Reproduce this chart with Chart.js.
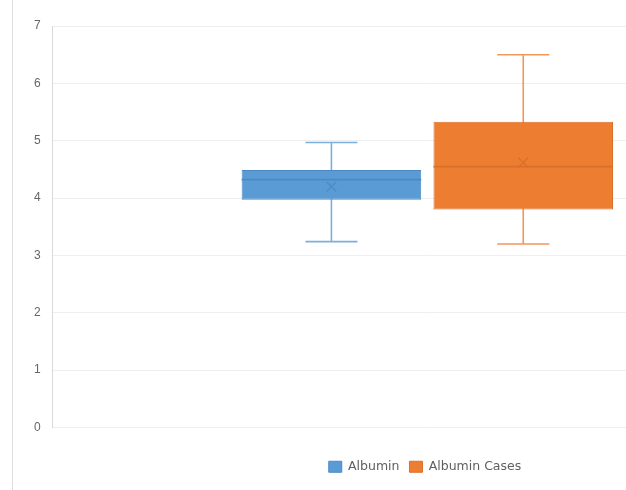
<!DOCTYPE html>
<html>
<head>
<meta charset="utf-8">
<script src="https://cdn.jsdelivr.net/npm/chart.js@4/dist/chart.umd.min.js"></script>
<style>
  html, body { margin: 0; padding: 0; width: 626px; height: 490px; overflow: hidden; background: #fff; }
  #frame { position: absolute; left: 12px; top: 0; width: 824px; height: 490px; border-left: 1px solid #dedede; }
  #chart { display: block; }
</style>
</head>
<body>
<div id="frame"><canvas id="chart" width="824" height="490"></canvas></div>
<script>
// Box-and-whisker summary per series
const categories = [''];
const seriesNames = ['Albumin', 'Albumin Cases'];
const minValues = [3.24, 3.20];
const q1Values = [3.97, 3.80];
const medianValues = [4.32, 4.55];
const q3Values = [4.49, 5.33];
const maxValues = [4.97, 6.50];
const meanValues = [4.20, 4.62];
const yTicks = [0, 1, 2, 3, 4, 5, 6, 7];

const fillColors = ['#5b9bd5', '#ed7d31'];
const lineColors = ['#4a89c6', '#d9702a'];

// Whiskers, median line and mean marker drawn around each floating bar
const boxWhiskerPlugin = {
  id: 'boxWhisker',
  beforeDatasetsDraw(chart) {
    const ctx = chart.ctx;
    const y = chart.scales.y;
    chart.data.datasets.forEach((ds, i) => {
      const bar = chart.getDatasetMeta(i).data[0];
      if (!bar) return;
      const cap = bar.width * 0.29;
      const yMin = y.getPixelForValue(minValues[i]);
      const yMax = y.getPixelForValue(maxValues[i]);
      ctx.save();
      ctx.strokeStyle = fillColors[i];
      ctx.globalAlpha = 0.8;
      ctx.lineWidth = 1.6;
      ctx.beginPath();
      ctx.moveTo(bar.x, yMax); ctx.lineTo(bar.x, yMin);
      ctx.moveTo(bar.x - cap / 2, yMax); ctx.lineTo(bar.x + cap / 2, yMax);
      ctx.moveTo(bar.x - cap / 2, yMin); ctx.lineTo(bar.x + cap / 2, yMin);
      ctx.stroke();
      ctx.restore();
    });
  },
  afterDatasetsDraw(chart) {
    const ctx = chart.ctx;
    const y = chart.scales.y;
    chart.data.datasets.forEach((ds, i) => {
      const bar = chart.getDatasetMeta(i).data[0];
      if (!bar) return;
      const half = bar.width / 2;
      const yMed = y.getPixelForValue(medianValues[i]);
      const yMean = y.getPixelForValue(meanValues[i]);
      ctx.save();
      ctx.strokeStyle = lineColors[i];
      ctx.lineWidth = 1.8;
      ctx.beginPath();
      ctx.moveTo(bar.x - half, yMed); ctx.lineTo(bar.x + half, yMed);
      ctx.stroke();
      ctx.lineWidth = 1.2;
      const m = 5;
      ctx.beginPath();
      ctx.moveTo(bar.x - m, yMean - m); ctx.lineTo(bar.x + m, yMean + m);
      ctx.moveTo(bar.x - m, yMean + m); ctx.lineTo(bar.x + m, yMean - m);
      ctx.stroke();
      ctx.restore();
    });
  }
};

const datasets = seriesNames.map((name, i) => ({
  label: name,
  data: [[q1Values[i], q3Values[i]]],
  backgroundColor: fillColors[i],
  borderColor: lineColors[i],
  borderWidth: 1,
  borderSkipped: false,
  categoryPercentage: 0.512,
  barPercentage: 0.936,
  yAxisID: 'y'
}));

new Chart(document.getElementById('chart'), {
  type: 'bar',
  data: { labels: categories, datasets },
  plugins: [boxWhiskerPlugin],
  options: {
    responsive: false,
    animation: false,
    layout: { padding: { left: 9, right: 9, top: 26, bottom: 7 } },
    plugins: {
      tooltip: { enabled: false },
      legend: {
        position: 'bottom',
        labels: {
          boxWidth: 13,
          boxHeight: 11,
          padding: 10,
          color: '#5f5f5f',
          font: { family: 'DejaVu Sans', size: 12.5 }
        }
      }
    },
    scales: {
      x: {
        display: true,
        grid: { display: false },
        border: { display: false },
        ticks: { display: false },
        afterFit(scale) { scale.height = 23; }
      },
      y: {
        min: 0,
        max: 7,
        afterBuildTicks(scale) { scale.ticks = yTicks.map(v => ({ value: v })); },
        grid: { color: '#eeeeee', drawTicks: false },
        border: { color: '#d9d9d9', width: 1 },
        ticks: {
          padding: 12,
          color: '#666666',
          font: { family: 'Liberation Sans', size: 12 }
        }
      },
      yRight: {
        position: 'right',
        display: true,
        min: 0,
        max: 7,
        grid: { display: false },
        border: { display: false },
        ticks: { display: false },
        afterFit(scale) { scale.width = 26; }
      }
    }
  }
});
</script>
</body>
</html>
